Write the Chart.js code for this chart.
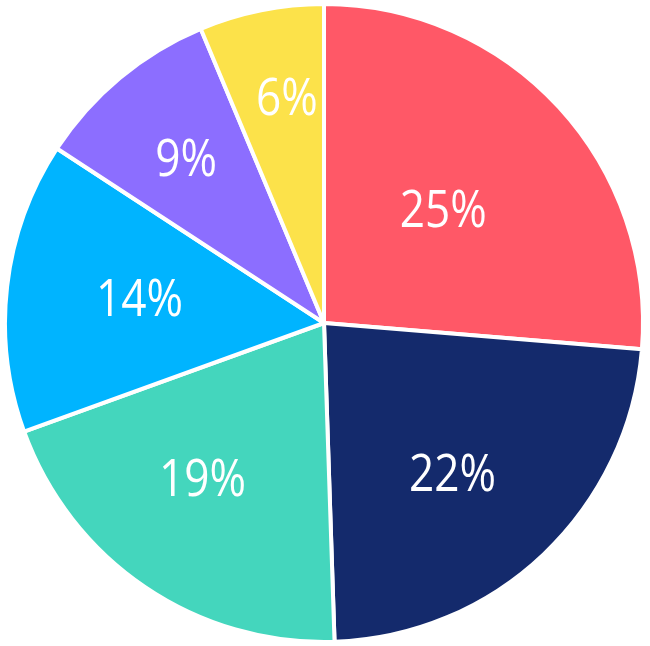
<!DOCTYPE html>
<html>
<head>
<meta charset="utf-8">
<script src="https://cdn.jsdelivr.net/npm/chart.js@4.4.1/dist/chart.umd.min.js"></script>
<style>
  html, body { margin: 0; padding: 0; background: #ffffff; }
  #wrap { width: 650px; height: 646px; position: relative; }
</style>
</head>
<body>
<div id="wrap"><canvas id="c" width="650" height="646"></canvas></div>
<script>
const categories = ['A', 'B', 'C', 'D', 'E', 'F'];
const values = [25, 22, 19, 14, 9, 6];
const valueLabels = ['25%', '22%', '19%', '14%', '9%', '6%'];

const colors = ['#FF5867', '#142A6C', '#44D6BD', '#00B4FF', '#8C6EFF', '#FCE24A'];
// label placement style: radius fraction of outer radius, angle shift in degrees
const labelRadius = [0.518, 0.618, 0.616, 0.584, 0.675, 0.72];
const labelShift = [-1.2, 2.9, 4.1, 1.4, 0, 2.1];

const labelPlugin = {
  id: 'sliceLabels',
  afterDatasetsDraw(chart) {
    const ctx = chart.ctx;
    const meta = chart.getDatasetMeta(0);
    const fontSize = 52;
    const scaleX = 0.85;
    meta.data.forEach((arc, i) => {
      const p = arc.getProps(['x', 'y', 'startAngle', 'endAngle', 'outerRadius'], true);
      const mid = (p.startAngle + p.endAngle) / 2 + labelShift[i] * Math.PI / 180;
      const r = p.outerRadius * labelRadius[i];
      const x = p.x + Math.cos(mid) * r;
      const y = p.y + Math.sin(mid) * r;
      ctx.save();
      ctx.fillStyle = '#ffffff';
      ctx.font = fontSize + 'px "Open Sans"';
      ctx.textAlign = 'center';
      ctx.textBaseline = 'alphabetic';
      ctx.translate(x, y + fontSize * 0.357);
      ctx.scale(scaleX, 1);
      ctx.fillText(valueLabels[i], 0, 0);
      ctx.restore();
    });
  }
};

new Chart(document.getElementById('c'), {
  type: 'pie',
  data: {
    labels: categories,
    datasets: [{
      data: values,
      backgroundColor: colors,
      borderColor: '#ffffff',
      borderWidth: 4,
      hoverOffset: 0
    }]
  },
  options: {
    responsive: false,
    animation: false,
    layout: { padding: { top: 2, bottom: 2, left: 2, right: 4 } },
    plugins: {
      legend: { display: false },
      tooltip: { enabled: false }
    }
  },
  plugins: [labelPlugin]
});
</script>
</body>
</html>
